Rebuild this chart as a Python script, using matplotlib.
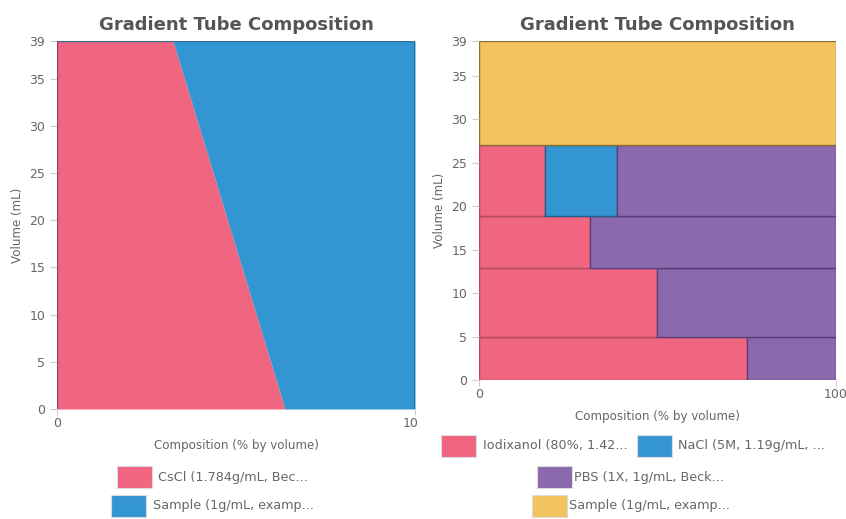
import matplotlib.pyplot as plt
import numpy as np
from matplotlib.patches import Rectangle
from matplotlib.transforms import Bbox

# left tube: linear gradient, CsCl share at bottom / top
vol_ends = [0, 39]
cscl_pct = [63.7, 32.4]

# right tube: step gradient layers (bottom, top) and composition in %
layer_bottom = [0, 4.9, 12.9, 18.9, 27.0]
layer_top = [4.9, 12.9, 18.9, 27.0, 39]
iodixanol = [75.0, 49.9, 31.0, 18.5, 0]
nacl = [0, 0, 0, 20.2, 0]
pbs = [25.0, 50.1, 69.0, 61.3, 0]
sample = [0, 0, 0, 0, 100]

yticks = [0, 5, 10, 15, 20, 25, 30, 35, 39]

PINK = '#f06580'
BLUE = '#3396d3'
PURPLE = '#8b69ad'
YELLOW = '#f2c460'
EDGE = {PINK: '#b04a5e', BLUE: '#1f5f8a', PURPLE: '#5a3d7a', YELLOW: '#8a6f2e'}
GRAY = '#666666'

W, H = 846, 519
fig = plt.figure(figsize=(W / 100, H / 100), dpi=100)

ax1 = fig.add_axes([57 / W, 1 - 409 / H, 358 / W, 368 / H])
ax2 = fig.add_axes([479 / W, 1 - 380 / H, 357 / W, 339 / H])

# left chart
v = np.array(vol_ends)
c = np.array(cscl_pct)
ax1.fill_betweenx(v, 0, c, color=PINK, lw=0)
ax1.fill_betweenx(v, c, 100, color=BLUE, lw=0)
ax1.plot([100, 100], [0, 39], color=EDGE[BLUE], lw=1.2)
ax1.plot([0, 100], [39, 39], color='#3a6f96', lw=1.0)
ax1.plot([0, 0], [0, 39], color='#8a4a5a', lw=1.0)

# right chart
cols = [(iodixanol, PINK), (nacl, BLUE), (pbs, PURPLE), (sample, YELLOW)]
for i in range(len(layer_bottom)):
    left = 0
    for vals, col in cols:
        w = vals[i]
        if w > 0:
            ax2.add_patch(Rectangle((left, layer_bottom[i]), w, layer_top[i] - layer_bottom[i],
                                    facecolor=col, edgecolor=EDGE[col], lw=1.0))
        left += w

for ax in (ax1, ax2):
    ax.set_xlim(0, 100)
    ax.set_ylim(0, 39)
    ax.set_yticks(yticks)
    ax.set_xticks([0, 100])
    for s in ax.spines.values():
        s.set_visible(False)
    ax.tick_params(colors='#cccccc', labelcolor=GRAY, labelsize=9, length=5, width=0.8)
    ax.tick_params(axis='x', pad=2, length=4)
    ax.set_title('Gradient Tube Composition', fontsize=13, fontweight='bold', color='#555555', pad=8)
    ax.set_ylabel('Volume (mL)', fontsize=8.6, color=GRAY, labelpad=4)
    ax.set_xlabel('Composition (% by volume)', fontsize=8.6, color=GRAY, labelpad=6)
    ax.axhline(0, color='#dddddd', lw=1, zorder=0)

# clip the "100" label on the left chart like the reference
for lab in ax1.get_xticklabels():
    lab.set_clip_on(True)
    lab.set_clip_box(Bbox.from_extents(0, 0, 417, H))


def legend_item(x_box, y_top, x_text, col, label):
    fig.patches.append(Rectangle((x_box / W, 1 - (y_top + 22) / H), 35 / W, 22 / H,
                                 transform=fig.transFigure, facecolor=col,
                                 edgecolor='#dddddd', lw=0.8))
    fig.text(x_text / W, 1 - (y_top + 11) / H, label, fontsize=9.2, color=GRAY, va='center')


legend_item(117, 466, 158, PINK, 'CsCl (1.784g/mL, Bec...')
legend_item(111, 495, 153, BLUE, 'Sample (1g/mL, examp...')
legend_item(441, 435, 483, PINK, 'Iodixanol (80%, 1.42...')
legend_item(637, 435, 678, BLUE, 'NaCl (5M, 1.19g/mL, ...')
legend_item(537, 466, 574, PURPLE, 'PBS (1X, 1g/mL, Beck...')
legend_item(532, 495, 569, YELLOW, 'Sample (1g/mL, examp...')

fig.savefig('out.png', dpi=100)
